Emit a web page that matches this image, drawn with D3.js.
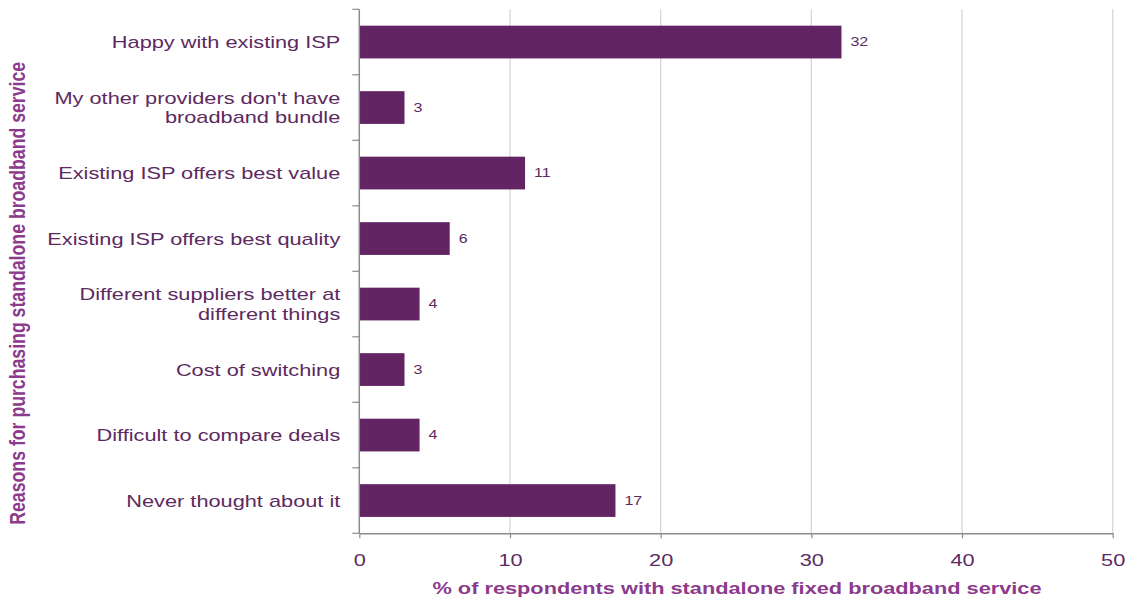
<!DOCTYPE html>
<html>
<head>
<meta charset="utf-8">
<script src="https://cdn.jsdelivr.net/npm/d3@7"></script>
<style>
  html, body { margin: 0; padding: 0; background: #fff; }
  svg { display: block; font-family: "Liberation Sans", Arial, sans-serif; }
</style>
</head>
<body>
<svg id="chart" width="1129" height="600"></svg>
<script>
// Reasons for buying broadband on its own, each with its share of respondents (%)
const categories = [
  ["Happy with existing ISP"],
  ["My other providers don't have", "broadband bundle"],
  ["Existing ISP offers best value"],
  ["Existing ISP offers best quality"],
  ["Different suppliers better at", "different things"],
  ["Cost of switching"],
  ["Difficult to compare deals"],
  ["Never thought about it"]
];
const values = [32, 3, 11, 6, 4, 3, 4, 17];
const xTicks = [0, 10, 20, 30, 40, 50];
const xTitle = "% of respondents with standalone fixed broadband service";
const yTitle = "Reasons for purchasing standalone broadband service";

const rows = categories.map((lines, i) => ({ key: lines.join(" "), lines, value: values[i] }));

const svg = d3.select("#chart");
const margin = { left: 359.3, right: 16.3, top: 9.3, bottom: 66.7 };
const W = 1129, H = 600;
// all lettering uses a wide face: stretch glyphs horizontally
const SX = 1.28;

const x = d3.scaleLinear().domain([0, 50]).range([margin.left, W - margin.right]);
const y = d3.scaleBand().domain(rows.map(d => d.key))
  .range([margin.top, H - margin.bottom]).paddingInner(0.5).paddingOuter(0.25);

const barColor = "#622463";
const textColor = "#5c2a60";
const titleColor = "#8b3a8c";

// vertical gridlines
svg.append("g").selectAll("line").data(xTicks.filter(t => t > 0)).join("line")
  .attr("x1", d => x(d)).attr("x2", d => x(d))
  .attr("y1", margin.top).attr("y2", H - margin.bottom)
  .attr("stroke", "#d4d4d4").attr("stroke-width", 1.2);

// bars
svg.append("g").selectAll("rect").data(rows).join("rect")
  .attr("x", x(0)).attr("y", d => y(d.key))
  .attr("width", d => x(d.value) - x(0)).attr("height", y.bandwidth())
  .attr("fill", barColor);

// value labels
svg.append("g").selectAll("text").data(rows).join("text")
  .attr("transform", d => `translate(${x(d.value) + 9},${y(d.key) + y.bandwidth() / 2}) scale(${SX},1)`)
  .attr("dy", "0.35em").attr("fill", textColor).attr("font-size", 12.5)
  .text(d => d.value);

// x axis
const xAxis = svg.append("g").attr("transform", `translate(0,${H - margin.bottom})`)
  .call(d3.axisBottom(x).tickValues(xTicks).tickSize(5).tickPadding(16).tickSizeOuter(0));
xAxis.select(".domain").attr("stroke", "#8c8c8c").attr("stroke-width", 1.5);
xAxis.selectAll(".tick line").attr("stroke", "#8c8c8c").attr("stroke-width", 1.2);
xAxis.selectAll(".tick text").attr("fill", textColor).attr("font-size", 17)
  .attr("font-family", "Liberation Sans, Arial, sans-serif")
  .attr("transform", `scale(${SX},1)`);

// y axis: line plus boundary ticks between categories
const yAxisG = svg.append("g");
yAxisG.append("line")
  .attr("x1", x(0)).attr("x2", x(0))
  .attr("y1", margin.top).attr("y2", H - margin.bottom)
  .attr("stroke", "#8c8c8c").attr("stroke-width", 1.5);
const step = y.step();
const bounds = d3.range(rows.length + 1).map(i => y.range()[0] + i * step);
yAxisG.selectAll("line.tk").data(bounds).join("line").attr("class", "tk")
  .attr("x1", x(0) - 7).attr("x2", x(0))
  .attr("y1", d => d).attr("y2", d => d)
  .attr("stroke", "#8c8c8c").attr("stroke-width", 1.2);

// category labels
const lineH = 19.5;
const cat = svg.append("g").selectAll("text").data(rows).join("text")
  .attr("transform", d => `translate(${x(0) - 19},${y(d.key) + y.bandwidth() / 2 - (d.lines.length - 1) * lineH / 2}) scale(${SX},1)`)
  .attr("text-anchor", "end").attr("fill", textColor).attr("font-size", 17);
cat.selectAll("tspan").data(d => d.lines).join("tspan")
  .attr("x", 0).attr("dy", (d, i) => i === 0 ? "0.35em" : lineH)
  .text(d => d);

// axis titles
svg.append("text")
  .attr("transform", `translate(${(x(0) + x(50)) / 2 + 1},594) scale(${SX},1)`)
  .attr("text-anchor", "middle").attr("fill", titleColor)
  .attr("font-size", 17).attr("font-weight", "bold")
  .text(xTitle);

svg.append("text")
  .attr("transform", `translate(25,${(margin.top + H - margin.bottom) / 2 + 22}) scale(${SX},1) rotate(-90)`)
  .attr("text-anchor", "middle").attr("fill", titleColor)
  .attr("font-size", 17.7).attr("font-weight", "bold")
  .text(yTitle);
</script>
</body>
</html>
